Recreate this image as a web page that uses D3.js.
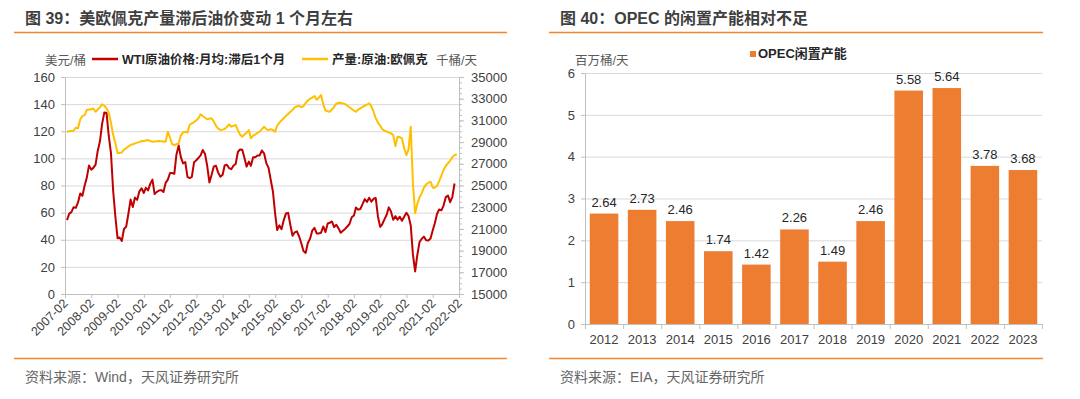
<!DOCTYPE html>
<html lang="zh-CN">
<head>
<meta charset="UTF-8">
<title>美欧佩克产量与油价 / OPEC 闲置产能</title>
<script src="https://d3js.org/d3.v7.min.js"></script>
<style>
  body { margin: 0; background: #fff; }
  svg { display: block; font-family: "Liberation Sans", Arial, "Noto Sans CJK SC", sans-serif; }
  .axis text { fill: #404040; }
  .axis path, .axis line { stroke: #bfbfbf; }
  .grid line { stroke: #d9d9d9; }
</style>
</head>
<body>
<div id="chart"></div>
<script>
// ---- 图39 数据 ----
// WTI原油价格:月均:滞后1个月（美元/桶），首个点 2007-03
const wtiStart = "2007-03";
const wtiPrice = [
  54.5, 59.3, 60.4, 64.0, 63.5, 67.5, 74.1, 72.4, 79.9, 85.8, 94.8, 91.7,
  93.0, 95.4, 105.5, 112.6, 125.4, 133.9, 133.4, 116.7, 104.1, 76.6, 57.3, 41.1,
  41.7, 39.1, 47.9, 49.7, 59.0, 69.6, 64.2, 71.1, 69.4, 75.7, 78.0, 74.5,
  78.3, 76.4, 81.2, 84.3, 73.7, 75.3, 76.3, 76.6, 75.2, 81.9, 84.3, 89.2,
  89.2, 88.6, 102.9, 109.5, 100.9, 96.3, 97.3, 86.3, 85.5, 86.3, 97.2, 98.6,
  100.3, 102.2, 106.2, 103.3, 94.7, 82.3, 87.9, 94.1, 94.5, 89.5, 86.5, 87.9,
  94.8, 95.3, 92.9, 92.0, 94.5, 95.8, 104.7, 106.6, 106.3, 100.5, 93.9, 97.6,
  94.6, 100.8, 100.8, 102.1, 102.2, 105.8, 103.6, 96.5, 93.2, 84.4, 75.8, 59.3,
  47.2, 50.6, 47.8, 54.5, 59.3, 59.8, 50.9, 42.9, 45.5, 46.2, 42.4, 37.2,
  31.7, 30.3, 37.6, 40.8, 46.7, 48.8, 44.7, 44.7, 45.2, 49.8, 45.7, 52.0,
  52.5, 53.5, 49.3, 51.1, 48.5, 45.2, 46.6, 48.0, 49.8, 51.6, 56.6, 57.9,
  63.7, 62.2, 62.7, 66.3, 70.0, 67.9, 71.0, 68.1, 70.2, 70.8, 57.0, 49.5,
  51.4, 55.0, 58.2, 63.9, 60.8, 54.7, 57.4, 54.8, 57.0, 54.0, 57.0, 59.9,
  57.5, 50.5, 29.2, 16.6, 28.6, 38.3, 40.7, 42.3, 39.6, 39.4, 40.9, 47.0,
  52.0, 59.0, 62.3, 61.7, 65.2, 71.4, 72.5, 67.7, 71.7, 81.5
];

// 产量:原油:欧佩克（千桶/天），首个点 2007-03
const opecStart = "2007-03";
const opecOutput = [
  29960, 30000, 30030, 30050, 30330, 30270, 31100, 31400, 31480, 31950,
  32000, 32020, 32100, 31800, 32000, 32200, 32480, 32350, 32100, 31700,
  30800, 29700, 28900, 28000, 28000, 28050, 28300, 28450, 28600, 28730,
  28800, 28880, 28950, 29000, 29100, 29100, 29150, 29190, 29100, 29040,
  29060, 29080, 29100, 29080, 29060, 29040, 29960, 29400, 28800, 28730,
  28800, 28890, 29600, 29900, 29960, 29870, 30600, 30730, 30850, 31000,
  31200, 31560, 31400, 31250, 31100, 31150, 31190, 30900, 30500, 30250,
  30120, 30150, 30200, 30400, 30640, 30420, 30500, 30580, 30100, 29700,
  29500, 29700, 29850, 30100, 29350, 29600, 29700, 29850, 29960, 30200,
  30420, 30200, 30100, 30180, 30100, 29960, 30500, 30800, 31000, 31200,
  31400, 31590, 31800, 31960, 32200, 32300, 32330, 32220, 32300, 32600,
  32850, 33000, 33100, 33250, 32900, 33100, 33340, 32500, 31900, 31850,
  31800, 32000, 32250, 32550, 32630, 32600, 32570, 32500, 32350, 32210,
  32050, 31900, 31800, 32000, 32110, 32250, 32350, 32450, 32570, 32300,
  31800, 31200, 30800, 30500, 30200, 30050, 29980, 29900, 29800, 29650,
  28640, 29500, 29450, 29350, 28430, 27800, 28300, 30420, 25200, 22440,
  23300, 23900, 24300, 24800, 25100, 25250, 25350, 24800, 24800, 24950,
  25400, 25900, 26430, 26800, 27050, 27300, 27600, 27800, 27880
];

const priceTicks = [0, 20, 40, 60, 80, 100, 120, 140, 160];
const outputTicks = [15000, 17000, 19000, 21000, 23000, 25000, 27000, 29000, 31000, 33000, 35000];
const monthTicks = ["2007-02", "2008-02", "2009-02", "2010-02", "2011-02", "2012-02", "2013-02", "2014-02",
  "2015-02", "2016-02", "2017-02", "2018-02", "2019-02", "2020-02", "2021-02", "2022-02"];

// ---- 图40 数据 ----
const years = ["2012", "2013", "2014", "2015", "2016", "2017", "2018", "2019", "2020", "2021", "2022", "2023"];
const spareCapacity = [2.64, 2.73, 2.46, 1.74, 1.42, 2.26, 1.49, 2.46, 5.58, 5.64, 3.78, 3.68];
const spareTicks = [0, 1, 2, 3, 4, 5, 6];

const ORANGE = "#f0882f";
const RED = "#c00000";
const GOLD = "#ffc000";
const BAR = "#ed7d31";

const svg = d3.select("#chart").append("svg")
  .attr("width", 1080).attr("height", 399);

const parseMonth = d3.timeParse("%Y-%m");
const monthsFrom = (start, n) => d3.range(n).map(i => d3.timeMonth.offset(parseMonth(start), i));

// 标题、分隔线、来源
function frame(x0, x1, title, source) {
  svg.append("text").attr("x", x0 + 11).attr("y", 24)
    .attr("fill", "#3f3f3f").style("font-size", "16px").style("font-weight", "bold")
    .text(title);
  svg.append("line").attr("x1", x0).attr("x2", x1).attr("y1", 32.5).attr("y2", 32.5)
    .attr("stroke", ORANGE).attr("stroke-width", 1.5);
  svg.append("line").attr("x1", x0).attr("x2", x1).attr("y1", 358.5).attr("y2", 358.5)
    .attr("stroke", ORANGE).attr("stroke-width", 1.5);
  svg.append("text").attr("x", x0 + 11).attr("y", 382)
    .attr("fill", "#666").style("font-size", "14px")
    .text(source);
}

frame(14, 507, "图 39：美欧佩克产量滞后油价变动 1 个月左右", "资料来源：Wind，天风证券研究所");
frame(549, 1043, "图 40：OPEC 的闲置产能相对不足", "资料来源：EIA，天风证券研究所");

// ================= 图39 =================
const pLeft = 65, pRight = 459, pTop = 77, pBottom = 294;

const x = d3.scaleTime()
  .domain([parseMonth(monthTicks[0]), parseMonth(monthTicks[monthTicks.length - 1])])
  .range([pLeft, pRight]);
const yPrice = d3.scaleLinear().domain([0, 160]).range([pBottom, pTop]);
const yOutput = d3.scaleLinear().domain([15000, 35000]).range([pBottom, pTop]);

svg.append("g").attr("class", "grid")
  .selectAll("line").data(priceTicks.slice(1)).join("line")
  .attr("x1", pLeft).attr("x2", pRight)
  .attr("y1", d => yPrice(d) + 0.5).attr("y2", d => yPrice(d) + 0.5);

svg.append("g").attr("class", "axis")
  .attr("transform", `translate(${pLeft},0)`)
  .call(d3.axisLeft(yPrice).tickValues(priceTicks).tickSize(4).tickPadding(6))
  .call(g => g.selectAll("text").style("font-size", "13px"));

// 次坐标轴，带次刻度
svg.append("g").attr("class", "axis")
  .attr("transform", `translate(${pRight},0)`)
  .call(d3.axisRight(yOutput).ticks(50).tickSize(3).tickFormat(""));
svg.append("g").attr("class", "axis")
  .attr("transform", `translate(${pRight},0)`)
  .call(d3.axisRight(yOutput).tickValues(outputTicks).tickSize(5).tickPadding(7).tickFormat(d3.format("d")))
  .call(g => g.selectAll("text").style("font-size", "13px"));

svg.append("g").attr("class", "axis")
  .attr("transform", `translate(0,${pBottom})`)
  .call(d3.axisBottom(x).tickValues(monthTicks.map(parseMonth)).tickSize(4).tickFormat(d3.timeFormat("%Y-%m")))
  .call(g => g.selectAll("text")
    .style("font-size", "12.5px")
    .style("text-anchor", "end")
    .attr("x", -5).attr("y", 5).attr("dy", "0.35em")
    .attr("transform", "rotate(-45)"));

const wtiDates = monthsFrom(wtiStart, wtiPrice.length);
const opecDates = monthsFrom(opecStart, opecOutput.length);

svg.append("path")
  .datum(wtiPrice)
  .attr("fill", "none").attr("stroke", RED).attr("stroke-width", 2).attr("stroke-linejoin", "round")
  .attr("d", d3.line().x((d, i) => x(wtiDates[i])).y(d => yPrice(d)));

svg.append("path")
  .datum(opecOutput)
  .attr("fill", "none").attr("stroke", GOLD).attr("stroke-width", 2).attr("stroke-linejoin", "round")
  .attr("d", d3.line().x((d, i) => x(opecDates[i])).y(d => yOutput(d)));

// 图例与单位
svg.append("text").attr("x", 45).attr("y", 65).attr("fill", "#595959")
  .style("font-size", "12.5px").text("美元/桶");
svg.append("text").attr("x", 436).attr("y", 65).attr("fill", "#595959")
  .style("font-size", "12.5px").text("千桶/天");

const legend = [
  {name: "WTI原油价格:月均:滞后1个月", color: RED, x: 92},
  {name: "产量:原油:欧佩克", color: GOLD, x: 302}
];
const lg = svg.append("g").selectAll("g").data(legend).join("g")
  .attr("transform", d => `translate(${d.x},59)`);
lg.append("line").attr("x1", 0).attr("x2", 26).attr("stroke", d => d.color).attr("stroke-width", 2.5);
lg.append("text").attr("x", 30).attr("y", 4.5).attr("fill", "#262626")
  .style("font-size", "12.5px").style("font-weight", "bold").text(d => d.name);

// ================= 图40 =================
const bLeft = 585, bRight = 1042, bTop = 73, bBottom = 324;

const xb = d3.scaleBand().domain(years).range([bLeft, bRight]).paddingInner(0.25).paddingOuter(0.125);
const yb = d3.scaleLinear().domain([0, 6]).range([bBottom, bTop]);

svg.append("g").attr("class", "grid")
  .selectAll("line").data(spareTicks.slice(1)).join("line")
  .attr("x1", bLeft).attr("x2", bRight)
  .attr("y1", d => yb(d) + 0.5).attr("y2", d => yb(d) + 0.5);

svg.append("g")
  .selectAll("rect").data(spareCapacity).join("rect")
  .attr("x", (d, i) => xb(years[i]))
  .attr("y", d => yb(d))
  .attr("width", xb.bandwidth())
  .attr("height", d => yb(0) - yb(d))
  .attr("fill", BAR);

svg.append("g")
  .selectAll("text").data(spareCapacity).join("text")
  .attr("x", (d, i) => xb(years[i]) + xb.bandwidth() / 2)
  .attr("y", d => yb(d) - 7)
  .attr("text-anchor", "middle").attr("fill", "#262626")
  .style("font-size", "13px")
  .text(d => d.toFixed(2));

svg.append("g").attr("class", "axis")
  .attr("transform", `translate(${bLeft},0)`)
  .call(d3.axisLeft(yb).tickValues(spareTicks).tickSize(4).tickPadding(6).tickFormat(d3.format("d")))
  .call(g => g.selectAll("text").style("font-size", "13px"));

svg.append("g").attr("class", "axis")
  .attr("transform", `translate(0,${bBottom})`)
  .call(d3.axisBottom(xb).tickSize(0).tickPadding(11))
  .call(g => g.selectAll("text").style("font-size", "13px"));

// 类别分隔刻度
const gap = (xb.step() - xb.bandwidth()) / 2;
svg.append("g").attr("class", "axis")
  .selectAll("line").data(years.map(y => xb(y) - gap).concat([bRight])).join("line")
  .attr("x1", d => d + 0.5).attr("x2", d => d + 0.5)
  .attr("y1", bBottom).attr("y2", bBottom + 5);

svg.append("rect").attr("x", 750).attr("y", 51).attr("width", 6).attr("height", 6).attr("fill", BAR);
svg.append("text").attr("x", 758).attr("y", 58).attr("fill", "#262626")
  .style("font-size", "13px").style("font-weight", "bold").text("OPEC闲置产能");
svg.append("text").attr("x", 575).attr("y", 65).attr("fill", "#595959")
  .style("font-size", "12.5px").text("百万桶/天");
</script>
</body>
</html>
